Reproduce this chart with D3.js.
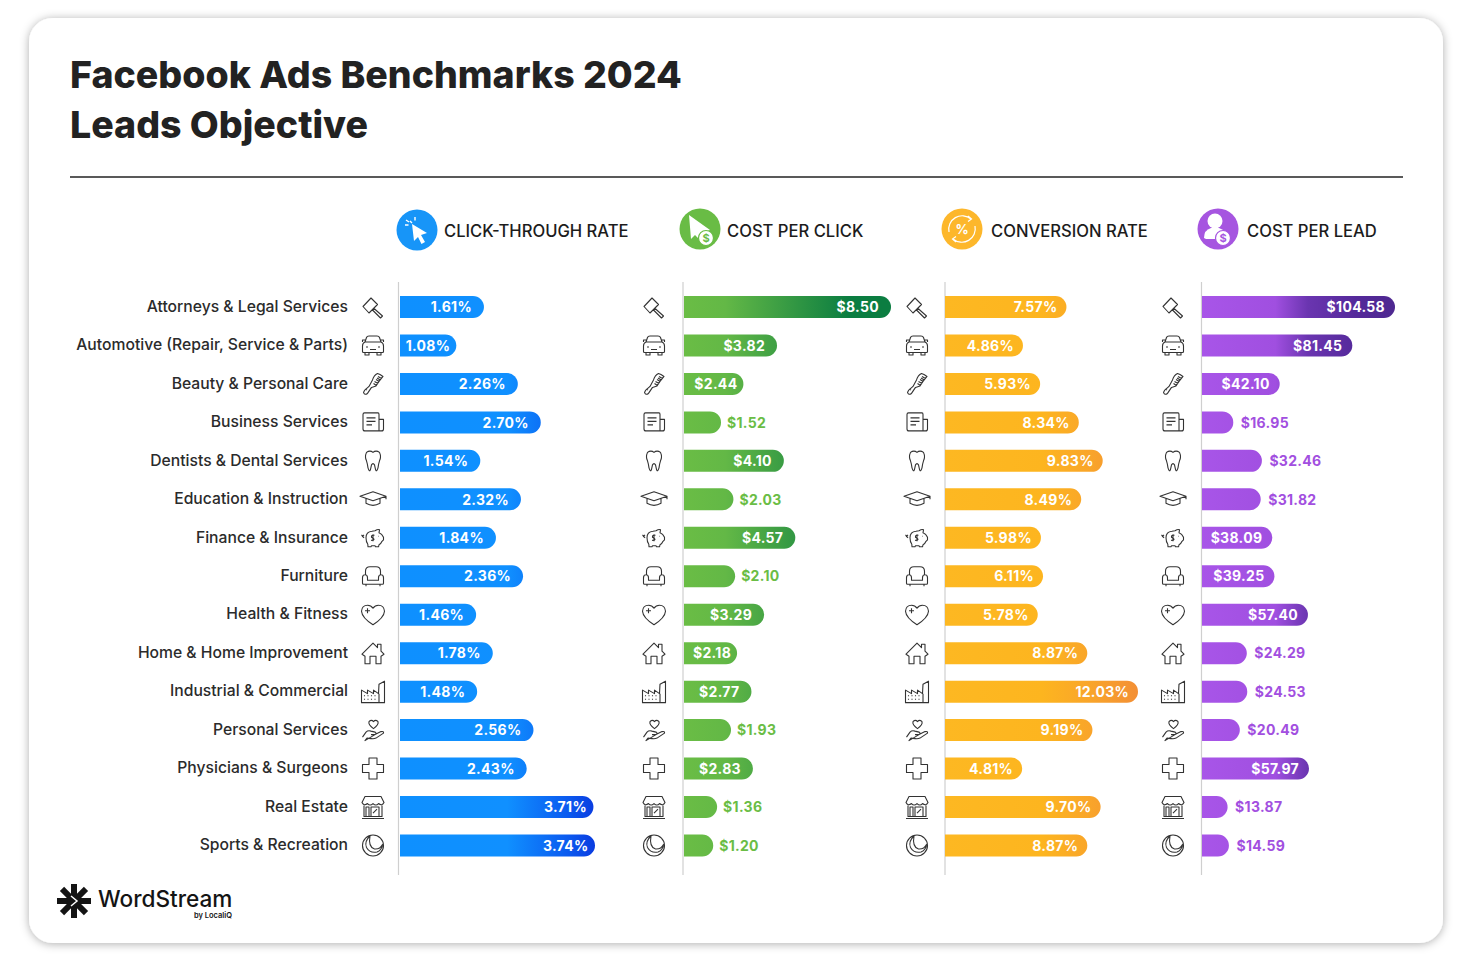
<!DOCTYPE html>
<html>
<head>
<meta charset="utf-8">
<script src="https://d3js.org/d3.v7.min.js"></script>
<style>
html, body { margin: 0; background: #fff; }
svg { display: block; }
text { font-family: Inter, "Open Sans", sans-serif; }
</style>
</head>
<body>
<div id="chart"></div>
<script>
// data
const categories = ["Attorneys & Legal Services", "Automotive (Repair, Service & Parts)", "Beauty & Personal Care",
  "Business Services", "Dentists & Dental Services", "Education & Instruction", "Finance & Insurance", "Furniture",
  "Health & Fitness", "Home & Home Improvement", "Industrial & Commercial", "Personal Services",
  "Physicians & Surgeons", "Real Estate", "Sports & Recreation"];
const ctr = [1.61, 1.08, 2.26, 2.70, 1.54, 2.32, 1.84, 2.36, 1.46, 1.78, 1.48, 2.56, 2.43, 3.71, 3.74];
const cpc = [8.50, 3.82, 2.44, 1.52, 4.10, 2.03, 4.57, 2.10, 3.29, 2.18, 2.77, 1.93, 2.83, 1.36, 1.20];
const cvr = [7.57, 4.86, 5.93, 8.34, 9.83, 8.49, 5.98, 6.11, 5.78, 8.87, 12.03, 9.19, 4.81, 9.70, 8.87];
const cpl = [104.58, 81.45, 42.10, 16.95, 32.46, 31.82, 38.09, 39.25, 57.40, 24.29, 24.53, 20.49, 57.97, 13.87, 14.59];
const titleLines = ["Facebook Ads Benchmarks 2024", "Leads Objective"];

// frame
const WIDTH = 1469, HEIGHT = 963;
const ROW_TOP = 307, ROW_BOTTOM = 845.5, BAR_H = 22;

// icon outlines, 24x24 box centred on 12,12
const ICONS = {
  gavel: "M2 11.500L10 3L16.500 9.500L8 18ZM12.500 13L21.500 21L19.500 23L11 14.500",
  car: "M5.500 4Q6 2.500 8 2.500H16Q18 2.500 18.500 4L20 8.500Q22.500 9.500 22.500 12.500V18Q22.500 19 21.500 19H2.500Q1.500 19 1.500 18V12.500Q1.500 9.500 4 8.500ZM4 8.500H20M4.800 6.500H1.500V8.500M19.200 6.500H22.500V8.500M4 19V21.500H8V19M16 19V21.500H20V19M5 13.500H7M17 13.500H19M9 16H15",
  comb: "M2.500 20.500Q3.500 23.500 6.500 21.500L10.500 15.500L15 14L18 9.500L22 4.500L19 2.500L16.500 1.500Q13 3 11.500 8L8 14.500L3.500 18.500ZM6 18L4.500 17M18.200 9.500L15 7.500M19.300 8L16 6M20.500 6.500L17 4.500M17 11.500L13.500 9.500M15.500 13.500L12.500 11.500",
  doc: "M2 4Q2 2.500 3.500 2.500H17Q18 2.500 18 4V20.500H4Q2 20.500 2 18.500ZM18 9H22.500V18.500Q22.500 20.500 20.500 20.500H18M5.500 7.500H14.500M5.500 11H14.500M5.500 14.500H11",
  tooth: "M5.500 3.500Q9 1 12 3.500Q15 1 18.500 3.500Q20.500 8 18.500 12Q17.500 15 17 19Q15.500 24 14.500 20.500L13.500 16Q12 13.500 10.500 16L9.500 20.500Q8.500 24 7 19Q6.500 15 5.500 12Q3.500 8 5.500 3.500Z",
  cap: "M-1 9L12 4.500L25 9L12 13.500ZM5 11.500V16Q12 20 19 16V11.500M25 9V12",
  piggy: "M5 12Q5 6 11 5.500L14 5Q17 3 18.500 4L18 7Q21 8 22.500 11.500V14L21 15.500Q20 18 18 19L17.500 21H14.500L14 20H10.500L10 21H7L6.800 18.500Q5 16 5 12ZM0.500 9L3 12M3 9L1 11M13.500 9.500Q10 9 10.500 11.500Q12.500 12.500 13 13.500Q12.500 15 10 14.500M12 8.500V15.500M17.500 10.500H18",
  chair: "M4.500 10.500V7Q4.500 2.500 9 2.500H15Q19.500 2.500 19.500 7V10.500M1.500 13.500Q1.500 10.500 4 10.500Q6.500 10.500 6.500 13.500V16H17.500V13.500Q17.500 10.500 20 10.500Q22.500 10.500 22.500 13.500V19Q22.500 20 21.500 20H2.500Q1.500 20 1.500 19ZM5 20V22M19 20V22",
  heart: "M12 22Q1 15 0.500 8.500Q1 2.500 6.500 2.500Q10 2.500 12 5.500Q14 2.500 17.500 2.500Q23 2.500 23.500 8.500Q23 15 12 22ZM6.500 5.500V10.500M4 8H9",
  house: "M1 13L12 2L16.500 6.500V3H20V10L23 13L20 15V22.500H15V15H9V22.500H4V15Z",
  factory: "M0.500 10.500L6.500 14V10.500L12.500 14V10.500L17.500 14L18 4.500L23.500 1.500V23H0.500ZM3.500 15.500V16.500M7 15.500V16.500M10.500 15.500V16.500M14 15.500V16.500M3.500 19V20M7 19V20M10.500 19V20M14 19V20M18 14V23",
  hand: "M1.500 19L5 14Q7 12 10 13L14 14Q16 15 14 16.500H10M14 16.500L20 13.500Q23 13 22.500 15L15 20Q13 21 10 20.500L6 20L4 22.500ZM12.500 10.500Q7 6.500 8 3.500Q10.500 1 12.500 3.500Q14.500 1 17 3.500Q18 6.500 12.500 10.500Z",
  cross: "M8 1.500H16V8H22.500V16H16V22.500H8V16H1.500V8H8Z",
  store: "M4 1.500H20L23 7.500Q21 11.500 17.500 8.500Q15 11.500 12 8.500Q9 11.500 6.500 8.500Q3 11.500 1 7.500ZM3 10.500V21.500H21V10.500M1 23.500H23M5 21.500V12H8V21.500M10 12H18V21.500H10ZM12 18L16 14",
  ball: "M12 1.500A10.500 10.500 0 1 0 12 22.500A10.500 10.500 0 1 0 12 1.500ZM9 2.500Q3 8 5.500 14Q9 20 16 18.500Q21 16.500 21.500 11Q19 16 13.500 15.500Q7 13.500 9 2.500"
};
const iconNames = ["gavel", "car", "comb", "doc", "tooth", "cap", "piggy", "chair", "heart", "house", "factory", "hand", "cross", "store", "ball"];

// one entry per metric column
const columns = [
  {name: "CLICK-THROUGH RATE", values: ctr, x0: 400, xEnd: 595, max: 3.74, iconX: 373, axisX: 398.5, suffix: "%", prefix: "", outsideBelow: 0, pad: 12, longFrom: 3.5, outGap: 6,
   head: {cx: 417, cy: 230, tx: 444, color: "#1795f8"}, stops: [[0, "#0e90ff"], [0.55, "#1090ff"], [0.85, "#0b5cf0"], [1, "#0a3ce0"]], text: "#0e90ff"},
  {name: "COST PER CLICK", values: cpc, x0: 684, xEnd: 891, max: 8.50, iconX: 654, axisX: 683, suffix: "", prefix: "$", outsideBelow: 2.15, pad: 12, longFrom: Infinity, outGap: 6,
   head: {cx: 700, cy: 229, tx: 727, color: "#69bc45"}, stops: [[0, "#6abd45"], [0.2, "#63b846"], [0.8, "#0b7d41"], [1, "#0b7d41"]], text: "#6abd45"},
  {name: "CONVERSION RATE", values: cvr, x0: 945, xEnd: 1138, max: 12.03, iconX: 917, axisX: 945, suffix: "%", prefix: "", outsideBelow: 0, pad: 9, longFrom: Infinity, outGap: 6,
   head: {cx: 962, cy: 229, tx: 991, color: "#fdb72b"}, stops: [[0, "#fdb822"], [0.5, "#fdb51f"], [0.75, "#f9a52a"], [1, "#f38f35"]], text: "#fdb822"},
  {name: "COST PER LEAD", values: cpl, x0: 1202, xEnd: 1395, max: 104.58, iconX: 1173, axisX: 1201.5, suffix: "", prefix: "$", outsideBelow: 35, pad: 10, longFrom: Infinity, outGap: 7.5,
   head: {cx: 1218, cy: 229, tx: 1247, color: "#a655e0"}, stops: [[0, "#a855e8"], [0.38, "#a04fe0"], [0.55, "#6a35b0"], [0.8, "#54299a"], [1, "#4e2890"]], text: "#a24fe0"}
];

const svg = d3.select("#chart").append("svg").attr("width", WIDTH).attr("height", HEIGHT);
const defs = svg.append("defs");

// card shadow
const shadow = defs.append("filter").attr("id", "cardShadow").attr("x", "-5%").attr("y", "-5%").attr("width", "110%").attr("height", "110%");
shadow.append("feDropShadow").attr("dx", 0).attr("dy", 1).attr("stdDeviation", 5).attr("flood-color", "#000").attr("flood-opacity", 0.32);

svg.append("rect").attr("x", 29).attr("y", 18).attr("width", 1414).attr("height", 925).attr("rx", 24)
  .attr("fill", "#fff").attr("filter", "url(#cardShadow)");

// title
svg.selectAll(".title").data(titleLines).enter().append("text")
  .attr("class", "title")
  .attr("x", 70).attr("y", (d, i) => 88 + i * 50)
  .attr("font-size", 37.5).attr("font-weight", 800).attr("fill", "#222")
  .text(d => d);

svg.append("line").attr("x1", 70).attr("x2", 1403).attr("y1", 177).attr("y2", 177)
  .attr("stroke", "#222").attr("stroke-width", 1.5);

// rows
const y = d3.scalePoint().domain(categories).range([ROW_TOP, ROW_BOTTOM]);

// category labels
const catAxis = svg.append("g").attr("transform", "translate(348,-0.8)")
  .call(d3.axisLeft(y).tickSize(0).tickPadding(0));
catAxis.select(".domain").remove();
catAxis.selectAll("text").attr("font-size", 15.7).attr("font-weight", 500).attr("fill", "#2b2b2b")
  .style("font-family", "Inter");

function barPath(x0, x1, yc, h) {
  const r = Math.min(h / 2, x1 - x0), p = d3.path();
  p.moveTo(x0, yc - h / 2);
  p.lineTo(x1 - r, yc - h / 2);
  p.arc(x1 - r, yc, r, -Math.PI / 2, Math.PI / 2);
  p.lineTo(x0, yc + h / 2);
  p.closePath();
  return p.toString();
}

columns.forEach((col, c) => {
  const x = d3.scaleLinear().domain([0, col.max]).range([col.x0, col.xEnd]);

  const grad = defs.append("linearGradient").attr("id", "grad" + c)
    .attr("gradientUnits", "userSpaceOnUse")
    .attr("x1", col.x0).attr("x2", col.xEnd).attr("y1", 0).attr("y2", 0);
  col.stops.forEach(s => grad.append("stop").attr("offset", s[0]).attr("stop-color", s[1]));

  // vertical baseline
  svg.append("line").attr("x1", col.axisX).attr("x2", col.axisX).attr("y1", 282).attr("y2", 875)
    .attr("stroke", "#cfcfcf").attr("stroke-width", 1.2);

  const rows = svg.selectAll(".row" + c).data(col.values).enter().append("g").attr("class", "row" + c);

  rows.append("path")
    .attr("d", (d, i) => barPath(col.x0, x(d), y(categories[i]), BAR_H))
    .attr("fill", "url(#grad" + c + ")");

  // short bars (and the longest blue ones) keep the label tight to the end
  rows.append("text")
    .attr("x", d => {
      if (d < col.outsideBelow) return x(d) + col.outGap;
      if (d >= col.longFrom) return x(d) - 6.5;
      return x(d) - (x(d) - col.x0 < 60 ? 6 : col.pad);
    })
    .attr("y", (d, i) => y(categories[i]) + 5.2)
    .attr("text-anchor", d => d < col.outsideBelow ? "start" : "end")
    .attr("font-size", 14).attr("font-weight", 700).attr("letter-spacing", 0.3)
    .attr("fill", d => d < col.outsideBelow ? col.text : "#fff")
    .text(d => col.prefix + d3.format(".2f")(d) + col.suffix);

  rows.append("path")
    .attr("transform", (d, i) => "translate(" + (col.iconX - 12) + "," + (y(categories[i]) - 12) + ")")
    .attr("d", (d, i) => ICONS[iconNames[i]])
    .attr("fill", "none").attr("stroke", "#333").attr("stroke-width", 1.1).attr("stroke-linejoin", "round");

  // column header
  svg.append("circle").attr("cx", col.head.cx).attr("cy", col.head.cy).attr("r", 20.5).attr("fill", col.head.color);
  svg.append("text").attr("x", col.head.tx).attr("y", 236.5)
    .attr("font-size", 16.6).attr("font-weight", 500).attr("fill", "#1c1c1c").text(col.name);
});

// header glyphs
const h = columns.map(d => d.head);
// click-through: cursor with sparks
svg.append("path").attr("transform", `translate(${h[0].cx},${h[0].cy})`)
  .attr("d", "M-5 -6L10 3L4 5L8 12L4.500 14L1 7L-3 11Z").attr("fill", "#fff");
svg.append("path").attr("transform", `translate(${h[0].cx},${h[0].cy})`)
  .attr("d", "M-7 -9L-5 -7M-2 -13V-9.500M-12 -5H-8.500M-11 -10L-8 -8")
  .attr("stroke", "#fff").attr("stroke-width", 1.4).attr("fill", "none");
// cost per click: cursor with coin
svg.append("path").attr("transform", `translate(${h[1].cx},${h[1].cy})`)
  .attr("d", "M-11 -14L10 1L2 4L-2 9L-5 6L-9 10Z").attr("fill", "#fff");
svg.append("circle").attr("cx", h[1].cx + 6).attr("cy", h[1].cy + 9).attr("r", 7.5)
  .attr("fill", "#fff").attr("stroke", h[1].color).attr("stroke-width", 1.2);
svg.append("text").attr("x", h[1].cx + 6).attr("y", h[1].cy + 13).attr("text-anchor", "middle")
  .attr("font-size", 11).attr("font-weight", 700).attr("fill", h[1].color).text("$");
// conversion rate: percent in two arrows
svg.append("path").attr("transform", `translate(${h[2].cx},${h[2].cy})`)
  .attr("d", "M-13 3A13.500 13.500 0 0 1 9 -10M6 -13L9.500 -10L6 -7.500M13 -3A13.500 13.500 0 0 1 -9 10M-6 13L-9.500 10L-6 7.500")
  .attr("fill", "none").attr("stroke", "#fff").attr("stroke-width", 1.2);
svg.append("text").attr("x", h[2].cx).attr("y", h[2].cy + 5).attr("text-anchor", "middle")
  .attr("font-size", 13).attr("font-weight", 700).attr("fill", "#fff").text("%");
// cost per lead: person with coin
svg.append("circle").attr("cx", h[3].cx - 3).attr("cy", h[3].cy - 8).attr("r", 7.5).attr("fill", "#fff");
svg.append("path").attr("transform", `translate(${h[3].cx},${h[3].cy})`)
  .attr("d", "M-14 9Q-14 1 -7 -1L1 -1Q8 1 8 9L6 10H-12Z").attr("fill", "#fff");
svg.append("circle").attr("cx", h[3].cx + 5).attr("cy", h[3].cy + 9).attr("r", 7.5)
  .attr("fill", "#fff").attr("stroke", h[3].color).attr("stroke-width", 1.2);
svg.append("text").attr("x", h[3].cx + 5).attr("y", h[3].cy + 13).attr("text-anchor", "middle")
  .attr("font-size", 11).attr("font-weight", 700).attr("fill", h[3].color).text("$");

// logo
const logo = svg.append("g").attr("transform", "translate(74,901)");
d3.range(8).forEach(i => {
  logo.append("rect").attr("x", 5).attr("y", -3).attr("width", 12).attr("height", 6)
    .attr("fill", "#141414").attr("transform", "rotate(" + (i * 45) + ")");
});
logo.append("circle").attr("r", 7).attr("fill", "#141414");
logo.append("path").attr("d", "M-3 -5L3 0L-3 5").attr("fill", "none").attr("stroke", "#fff").attr("stroke-width", 1.5);
svg.append("text").attr("x", 98).attr("y", 907).attr("font-size", 22.6).attr("font-weight", 500).attr("fill", "#141414").text("WordStream");
svg.append("text").attr("x", 232).attr("y", 918).attr("text-anchor", "end").attr("font-size", 7.5).attr("font-weight", 600).attr("fill", "#141414").text("by LocaliQ");
</script>
</body>
</html>
